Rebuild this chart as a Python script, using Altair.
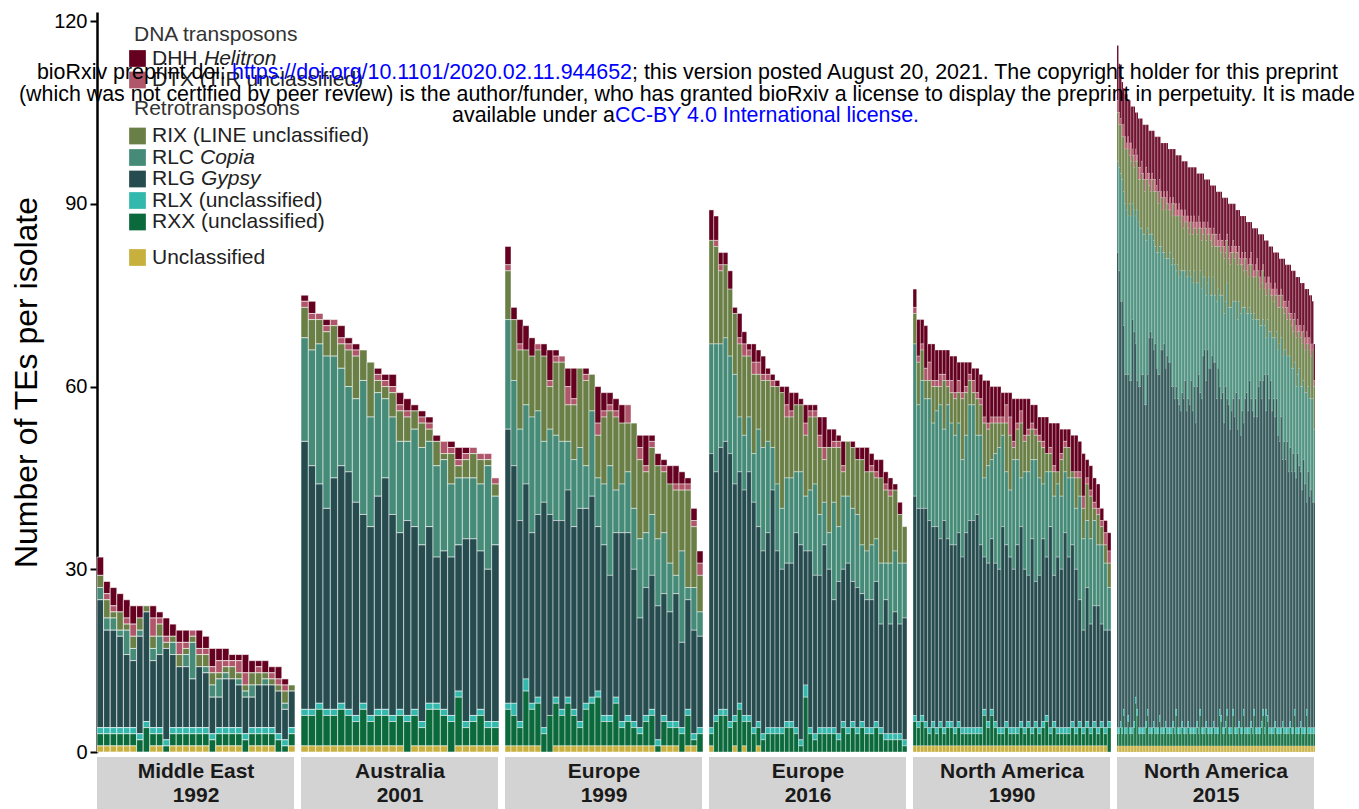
import altair as alt
import pandas as pd

FONT = "Liberation Sans"

# ---------------- categories -----------------
CATS = ["DHH", "DTX", "RIX", "RLC", "RLG", "RLX", "RXX", "Unclassified"]
COLORS = ["#650020", "#b0566a", "#6a7f45", "#458b78", "#274c4f", "#33b8ad", "#0b6a3c", "#c8b03f"]
# stacking order from the bottom
STACK = ["Unclassified", "RXX", "RLX", "RLG", "RLC", "RIX", "DTX", "DHH"]

# ---------------- data: Middle East 1992 (30 isolates) -----------------
me_dhh = [3,2,3,3,3,3,2,0,2,1,3,2,2,2,0,3,2,3,2,2,1,1,3,2,1,2,1,2,1,0]
me_dtx = [0,1,1,0,1,2,0,0,3,1,1,0,2,1,1,1,1,1,2,1,1,2,2,0,1,0,1,1,1,0]
me_rix = [2,3,1,3,1,2,2,1,2,2,1,1,2,1,1,2,2,2,1,1,2,1,1,2,2,1,1,1,2,1]
me_rlc = [2,2,2,1,4,2,1,0,2,3,0,2,0,2,6,0,1,2,3,1,0,1,1,2,0,1,0,0,1,0]
me_rlg = [21,16,16,15,12,11,16,18,11,12,15,12,10,10,8,10,9,6,5,8,8,7,6,5,7,7,7,7,5,6]
me_rlx = [1,1,1,1,1,1,1,1,1,1,1,1,1,1,1,1,1,1,1,1,1,1,1,1,1,1,1,1,1,1]
me_rxx = [2,2,2,2,2,2,2,4,2,2,1,2,2,2,2,2,2,2,2,2,2,2,2,2,2,2,2,2,1,2]
me_unc = [1,1,1,1,1,1,0,0,1,1,0,1,1,1,1,1,1,0,1,1,1,1,0,1,1,1,1,0,0,1]

# ---------------- Australia 2001 (27) -----------------
au_dhh = [1,2,0,1,0,2,1,1,0,0,1,1,2,2,2,1,1,1,1,0,1,2,1,0,0,0,0]
au_dtx = [1,1,1,1,1,1,1,1,0,0,1,1,1,1,1,0,1,1,0,2,1,1,1,1,1,1,1]
au_rix = [5,5,4,4,5,4,6,7,5,9,2,2,4,5,4,3,4,2,4,1,5,2,3,4,4,1,2]
au_rlc = [17,19,23,25,20,16,14,17,22,18,17,13,16,15,13,16,16,14,15,15,12,11,10,10,11,17,8]
au_rlg = [44,40,36,33,38,39,39,35,31,31,35,38,33,29,32,30,29,29,24,26,26,24,30,29,26,25,29]
au_rlx = [1,1,1,1,1,1,1,1,1,1,1,1,1,1,1,1,1,1,1,1,1,1,1,1,1,1,1]
au_rxx = [5,5,6,5,5,6,5,4,6,4,5,5,4,5,5,5,3,6,6,5,5,8,3,4,5,3,3]
au_unc = [1,1,1,1,1,1,1,1,1,1,1,1,1,1,0,1,1,1,1,1,0,1,1,1,1,1,1]

# ---------------- Europe 1999 (33) -----------------
e9_dhh = [3,2,4,4,3,0,2,5,1,0,3,5,0,1,0,6,3,2,2,3,0,0,2,5,1,2,1,3,3,2,1,2,2]
e9_dtx = [1,0,1,0,0,1,0,1,1,1,3,1,0,1,0,2,1,1,1,0,3,0,2,1,1,0,1,0,1,1,1,1,2]
e9_rix = [8,10,13,9,10,10,14,7,12,13,6,9,13,14,6,7,11,9,12,10,8,14,13,10,11,12,10,13,14,10,16,10,6]
e9_rlc = [18,14,15,13,19,17,10,14,14,13,8,11,10,7,14,8,10,18,7,8,10,10,13,9,10,11,10,8,3,15,2,7,4]
e9_rlg = [45,39,33,32,28,30,37,33,29,31,34,30,35,32,33,27,28,23,27,31,30,25,18,21,22,22,20,18,21,14,18,17,15]
e9_rlx = [1,2,1,2,1,1,1,0,1,1,1,1,1,1,1,1,1,1,1,1,1,1,1,1,1,1,1,1,1,1,1,1,1]
e9_rxx = [6,5,3,9,6,7,3,6,7,5,7,5,3,6,7,8,4,4,7,3,4,3,2,4,5,1,4,3,3,3,5,1,3]
e9_unc = [1,1,1,1,1,1,0,0,1,1,1,1,1,1,1,1,1,1,1,1,1,1,1,1,1,0,1,1,1,0,1,1,0]

# ---------------- Europe 2016 (42) -----------------
e6_dhh = [5,4,2,2,3,1,4,2,1,3,2,3,1,1,1,1,3,3,2,1,3,1,1,3,5,3,2,1,4,0,1,2,2,4,2,2,3,2,2,1,2,0]
e6_dtx = [0,1,1,0,0,0,1,2,1,2,2,1,1,1,0,0,2,1,0,0,2,1,1,2,2,0,1,1,1,0,0,0,0,0,1,1,0,1,1,0,0,0]
e6_rix = [17,16,12,12,11,10,12,13,10,13,9,11,10,10,16,19,10,10,11,11,10,12,11,11,7,14,9,13,4,9,10,9,14,13,12,10,14,12,11,10,8,6]
e6_rlc = [18,21,17,17,16,18,9,9,9,8,16,17,15,7,11,10,14,14,10,12,9,10,15,10,7,6,16,9,12,11,12,12,8,8,9,7,10,6,10,10,10,9]
e6_rlg = [45,40,43,44,44,38,38,37,40,37,32,30,32,39,29,26,26,26,32,32,22,29,26,25,30,26,21,25,25,27,23,23,21,21,21,23,17,22,18,20,18,20]
e6_rlx = [1,1,1,1,1,1,1,1,1,1,1,1,1,1,1,1,1,1,1,1,2,1,1,1,1,1,1,1,1,1,1,1,1,1,1,1,1,1,1,1,1,1]
e6_rxx = [2,5,6,6,4,4,7,4,5,3,3,2,3,3,3,3,4,4,3,1,9,3,2,3,3,3,3,2,4,3,4,3,4,3,3,4,3,2,2,2,2,1]
e6_unc = [1,0,0,0,0,1,0,1,0,0,1,0,0,0,0,0,0,0,0,0,0,0,0,0,0,0,0,0,0,0,0,0,0,0,0,0,0,0,0,0,0,0]

# ---------------- North America 1990 (54) -----------------
n9_dhh = [3,6,4,7,3,6,5,4,4,5,4,6,3,5,4,2,2,4,4,6,7,5,5,5,4,2,4,7,4,2,6,5,3,4,3,4,6,4,7,8,4,2,3,6,6,5,7,3,4,4,4,2,2,3]
n9_dtx = [1,1,1,2,3,1,1,2,1,1,2,1,2,1,1,1,2,1,1,1,1,1,1,1,1,3,3,1,1,2,1,1,1,1,1,1,0,1,1,0,1,1,0,0,1,1,2,1,1,1,1,1,2,2]
n9_rix = [5,7,5,3,3,6,4,3,8,3,5,6,5,10,7,4,2,6,5,9,6,6,5,4,2,8,9,2,5,9,5,6,5,4,6,6,3,3,4,2,6,4,5,1,5,3,5,6,7,2,5,3,3,4]
n9_rlc = [25,17,21,18,20,17,19,22,15,22,20,18,18,16,16,19,19,13,18,13,16,13,18,20,15,12,11,18,14,8,16,17,13,20,16,9,14,9,13,12,12,10,13,11,10,17,15,11,14,14,10,13,11,7]
n9_rlg = [36,35,34,35,34,32,33,30,34,30,29,30,31,28,32,34,34,35,30,25,26,28,26,26,33,29,28,26,30,32,26,24,31,23,25,30,26,33,24,28,26,32,28,29,26,20,16,22,17,19,20,16,16,15]
n9_rlx = [1,1,1,1,1,1,1,1,1,1,1,1,1,1,1,1,1,1,1,1,1,1,1,1,1,1,1,1,1,1,1,1,1,1,1,1,1,1,1,1,1,1,1,1,1,1,1,1,1,1,1,1,1,1]
n9_rxx = [4,3,4,3,2,3,2,3,2,3,3,2,3,2,2,2,2,2,2,5,3,5,3,2,2,3,2,2,2,3,2,3,2,3,2,3,4,2,3,2,2,2,2,3,2,3,2,3,2,3,2,3,2,4]
n9_unc = [1,1,1,1,1,1,1,1,1,1,1,1,1,1,1,1,1,1,1,1,1,1,1,1,1,1,1,1,1,1,1,1,1,1,1,1,1,1,1,1,1,1,1,1,1,1,1,1,1,1,1,1,1,0]

# ---------------- North America 2015 (132) -----------------
n5_dhh = [9,8,7,7,6,7,8,6,7,6, 7,8,6,7,8,8,7,8,9,7, 8,7,8,7,8,7,8,9,7,8,
          9,8,9,8,9,8,9,8,9,8, 9,8,9,8,9,8,9,8,9,8, 9,8,9,8,7,8,9,8,7,8,
          7,8,7,8,7,8,7,8,7,8, 7,8,7,6,7,8,7,6,7,6, 7,6,7,6,7,6,6,7,6,5,
          6,7,6,5,6,7,6,5,6,7, 6,5,6,7,6,5,6,7,6,5, 6,7,6,7,6,8,7,8,7,8,
          7,8,7,8,7,8,7,8,7,8,7,6]
n5_dtx = [2,2,1,2,2,2,1,2,2,3, 1,2,2,1,2,2,2,1,2,2, 1,2,2,1,2,2,1,2,2,1,
          2,1,2,2,1,2,2,1,2,2, 1,2,2,1,2,2,1,2,2,1, 2,2,1,2,2,1,2,2,1,2,
          2,1,2,2,1,2,2,1,2,2, 1,2,2,1,2,2,1,2,2,1, 2,2,1,2,2,1,2,2,1,2,
          2,1,2,2,1,2,2,1,2,2, 1,2,2,1,2,2,1,2,2,1, 2,2,1,2,2,1,2,2,1,2,
          2,1,2,2,1,2,2,1,2,2,1,1]
n5_rix = [8,7,8,7,9,9,10,11,8,9, 8,7,9,8,7,8,9,9,7,10, 8,8,7,9,8,9,10,8,9,8,
          7,9,8,9,8,7,8,9,8,9, 8,10,8,9,7,8,9,8,6,9, 8,7,9,8,9,7,8,7,8,9,
          8,7,9,8,7,8,9,7,8,7, 8,9,8,7,8,7,9,8,7,8, 9,7,8,7,6,8,7,6,7,8,
          7,6,7,8,7,6,7,8,6,7, 6,7,6,7,6,7,6,7,6,7, 8,6,7,6,7,6,7,6,7,8,
          7,6,8,7,8,7,8,7,8,7,8,7]
n5_rlc = [15,17,21,20,22,28,27,26,29,27, 19,20,21,28,27,26,24,23,28,27, 24,17,16,17,18,16,19,20,21,17,
          16,15,18,16,17,18,20,21,22,19, 22,21,23,20,21,18,22,20,22,17, 21,19,23,17,15,20,18,13,12,14,
          11,15,12,10,14,11,16,13,15,17, 16,18,14,19,16,20,17,16,19,15, 18,16,20,17,19,15,13,16,12,14,
          15,17,13,16,11,9,12,10,8,12, 9,11,8,12,10,13,11,14,16,13, 17,15,18,14,19,15,17,14,18,15,
          13,16,14,17,13,15,18,14,16,15,17,12]
n5_rlg = [78,75,69,70,63,58,58,56,57,57, 67,64,58,54,56,56,58,58,53,52, 55,64,65,64,61,63,59,58,56,62,
          62,63,58,61,60,60,56,55,54,53, 54,53,52,54,54,57,52,53,53,57, 52,56,50,55,58,52,54,61,62,56,
          62,59,59,61,59,60,54,59,53,52, 55,50,55,51,53,49,52,51,51,55, 49,53,48,52,47,54,55,52,57,53,
          52,48,54,51,56,57,53,54,58,49, 56,54,57,52,54,50,54,48,47,51, 43,47,44,47,42,45,42,45,39,41,
          45,43,41,39,44,40,34,42,38,39,37,37]
n5_rlx = [1,1,1,1,1,1,1,1,1,1, 1,1,1,1,1,1,1,1,1,1, 1,1,1,1,1,1,1,1,1,1,
          1,1,1,1,1,1,1,1,1,1, 1,1,1,1,1,1,1,1,1,1, 1,1,1,1,1,1,1,1,1,1,
          1,1,1,1,1,1,1,1,1,1, 1,1,1,1,1,1,1,1,1,1, 1,1,1,1,1,1,1,1,1,1,
          1,1,1,1,1,1,1,1,1,1, 1,1,1,1,1,1,1,1,1,1, 1,1,1,1,1,1,1,1,1,1,
          1,1,1,1,1,1,1,1,1,1,1,1]
n5_rxx = [2,2,3,2,5,2,2,4,2,2, 2,3,7,5,2,2,2,2,2,3, 5,2,2,2,3,2,2,2,4,2,
          2,2,3,2,2,2,2,3,2,5, 2,2,2,3,2,2,2,3,2,2, 2,2,2,3,2,5,2,2,2,3,
          2,2,2,2,3,2,2,2,5,4, 2,2,3,5,2,2,2,5,2,2, 2,3,2,2,5,2,2,2,2,3,
          2,5,2,2,2,2,3,5,2,5, 4,2,2,2,2,3,2,2,2,2, 3,2,2,2,2,3,2,2,5,2,
          2,2,3,2,2,2,5,2,2,2,2,2]
n5_unc = [1,1,1,1,1,1,1,1,1,1, 1,1,1,1,1,1,1,1,1,1, 1,1,1,1,1,1,1,1,1,1,
          1,1,1,1,1,1,1,1,1,1, 1,1,1,1,1,1,1,1,1,1, 1,1,1,1,1,1,1,1,1,1,
          1,1,1,1,1,1,1,1,1,1, 1,1,1,1,1,1,1,1,1,1, 1,1,1,1,1,1,1,1,1,1,
          1,1,1,1,1,1,1,1,1,1, 1,1,1,1,1,1,1,1,1,1, 1,1,1,1,1,1,1,1,1,1,
          1,1,1,1,1,1,1,1,1,1,1,1]

REGIONS = ["Middle East", "Australia", "Europe", "Europe", "North America", "North America"]
YEARS = ["1992", "2001", "1999", "2016", "1990", "2015"]
PANEL_DATA = [
    [me_dhh, me_dtx, me_rix, me_rlc, me_rlg, me_rlx, me_rxx, me_unc],
    [au_dhh, au_dtx, au_rix, au_rlc, au_rlg, au_rlx, au_rxx, au_unc],
    [e9_dhh, e9_dtx, e9_rix, e9_rlc, e9_rlg, e9_rlx, e9_rxx, e9_unc],
    [e6_dhh, e6_dtx, e6_rix, e6_rlc, e6_rlg, e6_rlx, e6_rxx, e6_unc],
    [n9_dhh, n9_dtx, n9_rix, n9_rlc, n9_rlg, n9_rlx, n9_rxx, n9_unc],
    [n5_dhh, n5_dtx, n5_rix, n5_rlc, n5_rlg, n5_rlx, n5_rxx, n5_unc],
]

# ---------------- layout constants -----------------
W = 198          # panel width
H = 740          # plot height
GAP = 6
YMAX = 121.5
STRIP_TOP = H + 5
STRIP_BOT = H + 57
# bar separator styling per panel (thin panels get thinner lines)
SEP_WIDTH = [0.6, 0.6, 0.5, 0.45, 0.4, 0.3]
SEP_OPACITY = [1.0, 0.9, 0.9, 0.85, 0.8, 0.55]

color_scale = alt.Scale(domain=CATS, range=COLORS)


def panel_df(arrays):
    rows = []
    n = len(arrays[0])
    for i in range(n):
        for cat, arr in zip(CATS, arrays):
            if arr[i] > 0:
                rows.append({"isolate": i, "te": cat, "count": arr[i],
                             "ord": STACK.index(cat)})
    return pd.DataFrame(rows)


def make_panel(k):
    df = panel_df(PANEL_DATA[k])
    if k == 0:
        yaxis = alt.Axis(values=[0, 30, 60, 90, 120], title="Number of TEs per isolate",
                         titleFontSize=32, titleFontWeight="normal", titleColor="black",
                         titleFont=FONT, labelFont=FONT, labelFontSize=20, labelColor="black",
                         tickColor="black", tickSize=7, tickWidth=2, domainColor="black",
                         domainWidth=2.5, grid=False, labelPadding=3, titlePadding=10)
    else:
        yaxis = None
    bars = alt.Chart(df).mark_bar(stroke="white", strokeWidth=SEP_WIDTH[k],
                                  strokeOpacity=SEP_OPACITY[k]).encode(
        x=alt.X("isolate:O", axis=None, scale=alt.Scale(paddingInner=0, paddingOuter=0)),
        y=alt.Y("count:Q", stack="zero", axis=yaxis,
                scale=alt.Scale(domain=[0, YMAX], nice=False, zero=True)),
        color=alt.Color("te:N", scale=color_scale, legend=None),
        order=alt.Order("ord:Q", sort="ascending"),
    ).properties(width=W, height=H)

    sdf = pd.DataFrame({"region": [REGIONS[k]], "year": [YEARS[k]]})
    strip = alt.Chart(sdf).mark_rect(color="#d3d3d3").encode(
        x=alt.value(0), x2=alt.value(W - 1), y=alt.value(STRIP_TOP), y2=alt.value(STRIP_BOT))
    t1 = alt.Chart(sdf).mark_text(font=FONT, fontSize=21, fontWeight="bold", color="#1a1a1a",
                                  baseline="middle").encode(
        text="region:N", x=alt.value(W / 2), y=alt.value(H + 20))
    t2 = alt.Chart(sdf).mark_text(font=FONT, fontSize=21, fontWeight="bold", color="#1a1a1a",
                                  baseline="middle").encode(
        text="year:N", x=alt.value(W / 2), y=alt.value(H + 44))
    return [bars, strip, t1, t2]


# ---------------- custom legend (first panel) -----------------
LEGEND_HEAD = [("DNA transposons", 23), ("Retrotransposons", 96.5)]
LEGEND_ITEMS = [("DHH", "Helitron", "DHH", 46.5),
                ("DTX (TIR unclassified)", "", "DTX", 68),
                ("RIX (LINE unclassified)", "", "RIX", 124),
                ("RLC", "Copia", "RLC", 145.5),
                ("RLG", "Gypsy", "RLG", 167),
                ("RLX (unclassified)", "", "RLX", 188.5),
                ("RXX (unclassified)", "", "RXX", 210),
                ("Unclassified", "", "Unclassified", 245.5)]
ITALIC_DX = {"DHH": 52, "RLC": 48, "RLG": 49}


def legend_layers():
    layers = []
    for head, yy in LEGEND_HEAD:
        d = pd.DataFrame({"t": [head]})
        layers.append(alt.Chart(d).mark_text(font=FONT, fontSize=21, color="#333333",
                                             align="left", baseline="middle").encode(
            text="t:N", x=alt.value(37), y=alt.value(yy)))
    for lab, ital, cat, yy in LEGEND_ITEMS:
        d = pd.DataFrame({"t": [lab], "i": [ital]})
        col = COLORS[CATS.index(cat)]
        layers.append(alt.Chart(d).mark_square(size=280, color=col, opacity=1).encode(
            x=alt.value(40.5), y=alt.value(yy)))
        layers.append(alt.Chart(d).mark_text(font=FONT, fontSize=21, color="#222222",
                                             align="left", baseline="middle").encode(
            text="t:N", x=alt.value(55), y=alt.value(yy)))
        if ital:
            layers.append(alt.Chart(d).mark_text(font=FONT, fontSize=21, color="#222222",
                                                 fontStyle="italic", align="left",
                                                 baseline="middle").encode(
                text="i:N", x=alt.value(55 + ITALIC_DX[cat]), y=alt.value(yy)))
    return layers


# ---------------- watermark (drawn on last panel, offsets relative to it) -----------------
WM_SIZE = 21.4
WM = [
    ("bioRxiv preprint doi:", "black", "right", 226, 61),
    ("https://doi.org/10.1101/2020.02.11.944652", "blue", "left", 232, 61),
    ("; this version posted August 20, 2021. The copyright holder for this preprint", "black", "left", 632, 61),
    ("(which was not certified by peer review) is the author/funder, who has granted bioRxiv a license to display the preprint in perpetuity. It is made", "black", "center", 687, 83),
    ("available under a", "black", "right", 615, 104),
    ("CC-BY 4.0 International license.", "blue", "left", 615, 104),
]
PANEL6_X = 97 + 5 * (W + GAP)


def watermark_layers():
    layers = []
    for txt, col, al, xx, yy in WM:
        d = pd.DataFrame({"t": [txt]})
        layers.append(alt.Chart(d).mark_text(font=FONT, fontSize=WM_SIZE, color=col, align=al,
                                             baseline="middle").encode(
            text="t:N", x=alt.value(xx - PANEL6_X), y=alt.value(yy)))
    return layers


panels = []
for k in range(6):
    lays = make_panel(k)
    if k == 0:
        lays = lays + legend_layers()
    if k == 5:
        lays = lays + watermark_layers()
    panels.append(alt.layer(*lays))

chart = alt.hconcat(*panels, spacing=GAP, bounds="flush").properties(
    padding={"left": 10, "top": 11, "right": 0, "bottom": 0},
    background="white",
).configure_view(stroke=None)

chart.save("out.html", embed_options={"renderer": "svg", "actions": False})
